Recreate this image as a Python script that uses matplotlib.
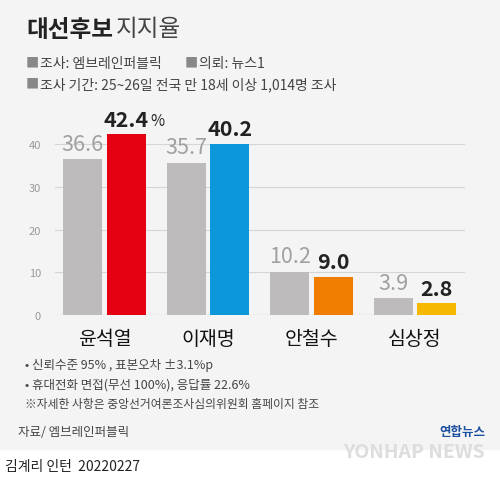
import matplotlib
matplotlib.use("Agg")
import matplotlib.pyplot as plt
from matplotlib.patches import Rectangle

plt.rcParams['font.family'] = ['Noto Sans CJK KR', 'DejaVu Sans']

candidates = ['윤석열', '이재명', '안철수', '심상정']
prev = [36.6, 35.7, 10.2, 3.9]
curr = [42.4, 40.2, 9.0, 2.8]
colors = ['#e50012', '#0b97d9', '#f07d00', '#f7b900']
yticks = [0, 10, 20, 30, 40]

fig = plt.figure(figsize=(5, 4.81), dpi=100)
fig.patches.append(Rectangle((0, 0.064), 1, 0.936, transform=fig.transFigure, color='#f4f4f4', zorder=-10))

ax = fig.add_axes([0.11, 0.343, 0.82, 0.399])
ax.set_facecolor('none')
ax.set_xlim(-0.478, 3.483)
ax.set_ylim(0, 45)
for s in ax.spines.values():
    s.set_visible(False)
ax.set_yticks(yticks)
ax.set_yticklabels([str(t) for t in yticks], color='#999999', fontsize=8)
ax.tick_params(axis='y', length=0, pad=10)
ax.set_xticks([])
for t in yticks:
    ax.axhline(t, color='#d5d5d5', lw=0.8, zorder=0)
ax.axhline(0, color='#aaaaaa', lw=0.8, zorder=1)
w = 0.377
g = 0.021
for i in range(4):
    ax.bar(i - w/2 - g, prev[i], w, color='#bdbbbb', zorder=2)
    ax.bar(i + w/2 + g, curr[i], w, color=colors[i], zorder=2)
    ax.text(i - w/2 - g, prev[i] + 1, f'{prev[i]:.1f}', ha='center', va='bottom', color='#a0a0a0', fontsize=15.5)
    ax.text(i + w/2 + g, curr[i] + 1, f'{curr[i]:.1f}', ha='center', va='bottom', color='#222222', fontsize=15.5, fontweight='bold')
    ax.text(i, -3, candidates[i], ha='center', va='top', fontsize=14, color='#111111')
ax.text(0 + w/2 + g + 0.23, curr[0] + 1.3, '%', ha='left', va='bottom', fontsize=11, color='#222222')

fig.text(0.052, 0.938, '대선후보', fontsize=17, fontweight='bold', color='#222222', va='center')
fig.text(0.232, 0.938, '지지율', fontsize=17, color='#444444', va='center')
fig.text(0.052, 0.867, '■', fontsize=9.5, color='#888888', va='center')
fig.text(0.08, 0.867, '조사: 엠브레인퍼블릭', fontsize=10, color='#444444', va='center')
fig.text(0.37, 0.867, '■', fontsize=9.5, color='#888888', va='center')
fig.text(0.398, 0.867, '의뢰: 뉴스1', fontsize=10, color='#444444', va='center')
fig.text(0.052, 0.823, '■', fontsize=9.5, color='#888888', va='center')
fig.text(0.08, 0.823, '조사 기간: 25~26일 전국 만 18세 이상 1,014명 조사', fontsize=10, color='#444444', va='center')

fig.text(0.05, 0.24, '• 신뢰수준 95% , 표본오차 ±3.1%p', fontsize=9, color='#444444', va='center')
fig.text(0.05, 0.20, '• 휴대전화 면접(무선 100%), 응답률 22.6%', fontsize=9, color='#444444', va='center')
fig.text(0.05, 0.16, '※자세한 사항은 중앙선거여론조사심의위원회 홈페이지 참조', fontsize=8.5, color='#444444', va='center')
fig.text(0.036, 0.10, '자료/ 엠브레인퍼블릭', fontsize=9, color='#444444', va='center')
fig.text(0.97, 0.10, '연합뉴스', fontsize=9, fontweight='bold', color='#1b4fa0', ha='right', va='center')
fig.text(0.97, 0.06, 'YONHAP NEWS', fontsize=14, fontweight='bold', fontstyle='italic', color='#dddddd', ha='right', va='center')
fig.text(0.01, 0.03, '김계리 인턴  20220227', fontsize=10, color='#222222', va='center')

fig.savefig('out.png', dpi=100)
